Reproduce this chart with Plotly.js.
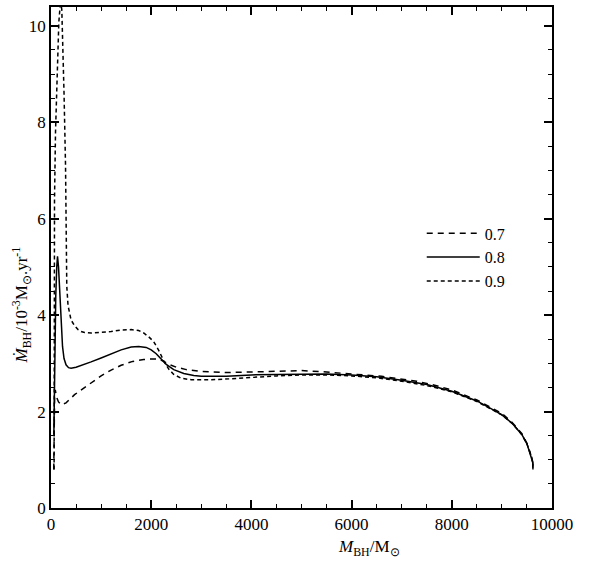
<!DOCTYPE html>
<html>
<head>
<meta charset="utf-8">
<script src="https://cdn.plot.ly/plotly-3.0.1.min.js"></script>
<style>html,body{margin:0;padding:0;background:#fff;}</style>
</head>
<body>
<div id="chart" style="width:603px;height:561px;"></div>
<div id="dbg" style="position:absolute;left:-10000px;top:0;width:300px;font:11px monospace;color:#fff;white-space:pre-wrap;"></div>
<script>
// Series 0.7 (long dashes)
const x07 = [55, 62, 72, 85, 110, 150, 205, 300, 470, 700, 900, 1000, 1200, 1400, 1630, 1850, 2000, 2150, 2250, 2350, 2500, 2700, 3000, 3500, 4000, 4500, 5000, 5500, 6000, 6600, 7300, 7600, 8000, 8500, 9000, 9200, 9400, 9500, 9560, 9600, 9615, 9620];
const y07 = [0.8, 1.6, 2.3, 2.45, 2.3, 2.2, 2.14, 2.18, 2.35, 2.52, 2.66, 2.74, 2.86, 2.96, 3.04, 3.08, 3.09, 3.09, 3.04, 2.98, 2.92, 2.87, 2.83, 2.81, 2.82, 2.84, 2.85, 2.82, 2.78, 2.73, 2.63, 2.56, 2.45, 2.24, 1.96, 1.78, 1.54, 1.34, 1.16, 1.04, 0.95, 0.8];

// Series 0.8 (solid)
const x08 = [57, 65, 75, 95, 115, 130, 150, 175, 200, 230, 260, 300, 350, 400, 500, 650, 800, 1000, 1200, 1400, 1600, 1750, 1900, 2000, 2100, 2200, 2300, 2450, 2650, 2850, 3000, 3500, 4000, 4500, 5000, 5500, 6000, 6500, 7000, 7500, 8000, 8500, 8800, 9000, 9200, 9400, 9500, 9560, 9600, 9615, 9620];
const y08 = [1.52, 2.3, 3.0, 4.4, 5.0, 5.22, 5.0, 4.4, 3.85, 3.35, 3.1, 2.97, 2.91, 2.90, 2.92, 2.97, 3.03, 3.11, 3.20, 3.28, 3.34, 3.35, 3.33, 3.28, 3.20, 3.10, 2.98, 2.87, 2.79, 2.75, 2.73, 2.73, 2.76, 2.77, 2.78, 2.78, 2.76, 2.72, 2.65, 2.56, 2.42, 2.22, 2.05, 1.93, 1.76, 1.52, 1.33, 1.15, 1.04, 0.95, 0.8];

// Series 0.9 (short dashes)
const x09 = [62, 66, 70, 90, 120, 156, 185, 200, 216, 240, 260, 290, 305, 315, 340, 400, 470, 540, 600, 670, 800, 1000, 1200, 1400, 1600, 1750, 1850, 1950, 2050, 2150, 2250, 2350, 2450, 2600, 2800, 3000, 3200, 3600, 4000, 4500, 5000, 5500, 6000, 6500, 7000, 7500, 8000, 8500, 9000, 9200, 9400, 9500, 9560, 9600, 9615, 9620];
const y09 = [0.8, 4.0, 6.4, 7.8, 9.1, 10.07, 10.45, 10.45, 10.33, 9.5, 8.6, 7.1, 6.0, 4.6, 4.2, 3.9, 3.78, 3.70, 3.66, 3.64, 3.63, 3.64, 3.66, 3.69, 3.70, 3.68, 3.63, 3.55, 3.45, 3.27, 3.05, 2.88, 2.77, 2.69, 2.66, 2.66, 2.66, 2.68, 2.71, 2.74, 2.76, 2.76, 2.74, 2.70, 2.63, 2.54, 2.41, 2.21, 1.93, 1.76, 1.52, 1.33, 1.15, 1.04, 0.95, 0.8];

const seriesNames = ["0.7", "0.8", "0.9"];
const xTickVals = [0, 2000, 4000, 6000, 8000, 10000];
const xTickText = ["0", "2000", "4000", "6000", "8000", "10000"];
const yTickVals = [0, 2, 4, 6, 8, 10];
const yTickText = ["0", "2", "4", "6", "8", "10"];

const FONT = "Liberation Serif";
const dbg = document.getElementById("dbg");

const traces = [
  {x: x07, y: y07, name: seriesNames[0], mode: "lines", line: {color: "black", width: 1.5, dash: "6px,5px"}},
  {x: x08, y: y08, name: seriesNames[1], mode: "lines", line: {color: "black", width: 1.5}},
  {x: x09, y: y09, name: seriesNames[2], mode: "lines", line: {color: "black", width: 1.5, dash: "4px,3px"}}
];

const layout = {
  width: 603, height: 561,
  margin: {l: 51, r: 51, t: 7, b: 53},
  font: {family: FONT, size: 17, color: "black"},
  xaxis: {
    range: [0, 10000], showline: true, linecolor: "black", linewidth: 1.5, mirror: "ticks",
    ticks: "inside", ticklen: 8, tickwidth: 1.5, tickcolor: "black", showgrid: false, zeroline: false,
    tickmode: "array", tickvals: xTickVals, ticktext: xTickText,
    minor: {tickmode: "linear", tick0: 0, dtick: 500, ticks: "inside", ticklen: 4, tickwidth: 1, tickcolor: "black"}
  },
  yaxis: {
    range: [0, 10.39], showline: true, linecolor: "black", linewidth: 1.5, mirror: "ticks",
    ticks: "inside", ticklen: 8, tickwidth: 1.5, tickcolor: "black", showgrid: false, zeroline: false,
    tickmode: "array", tickvals: yTickVals, ticktext: yTickText,
    minor: {tickmode: "linear", tick0: 0, dtick: 0.5, ticks: "inside", ticklen: 4, tickwidth: 1, tickcolor: "black"}
  },
  showlegend: true,
  legend: {
    x: 0.74, y: 0.582, xanchor: "left", yanchor: "top",
    bgcolor: "rgba(0,0,0,0)", borderwidth: 0,
    tracegroupgap: 0, itemwidth: 53,
    font: {family: FONT, size: 16, color: "black"}
  },
  annotations: [
    {xref: "paper", yref: "paper", x: 0.634, y: -0.079, xanchor: "center", yanchor: "middle",
     showarrow: false, text: "<i>M</i><sub>BH</sub>/M<sub>⊙</sub>"},
    {xref: "paper", yref: "paper", x: -0.058, y: 0.406, xanchor: "center", yanchor: "middle",
     textangle: -90, showarrow: false,
     text: "<i>Ṁ</i><sub>BH</sub>/10<sup>-3</sup>M<sub>⊙</sub>.yr<sup>-1</sup>"}
  ]
};

const reapply = {
  "font.family": FONT, "font.size": 17, "font.color": "black",
  "xaxis.ticks": "inside", "xaxis.ticklen": 8, "xaxis.tickwidth": 1.5, "xaxis.tickcolor": "black",
  "yaxis.ticks": "inside", "yaxis.ticklen": 8, "yaxis.tickwidth": 1.5, "yaxis.tickcolor": "black"
};

Plotly.newPlot("chart", traces, layout, {displayModeBar: false}).then(function(gd){
  return Plotly.relayout(gd, reapply);
}).then(function(){
  const all = document.querySelectorAll("path.xtick, path.ytick");
  dbg.textContent = "rendered " + all.length;
}).catch(function(e){ dbg.textContent = "err " + e; });
</script>
</body>
</html>
